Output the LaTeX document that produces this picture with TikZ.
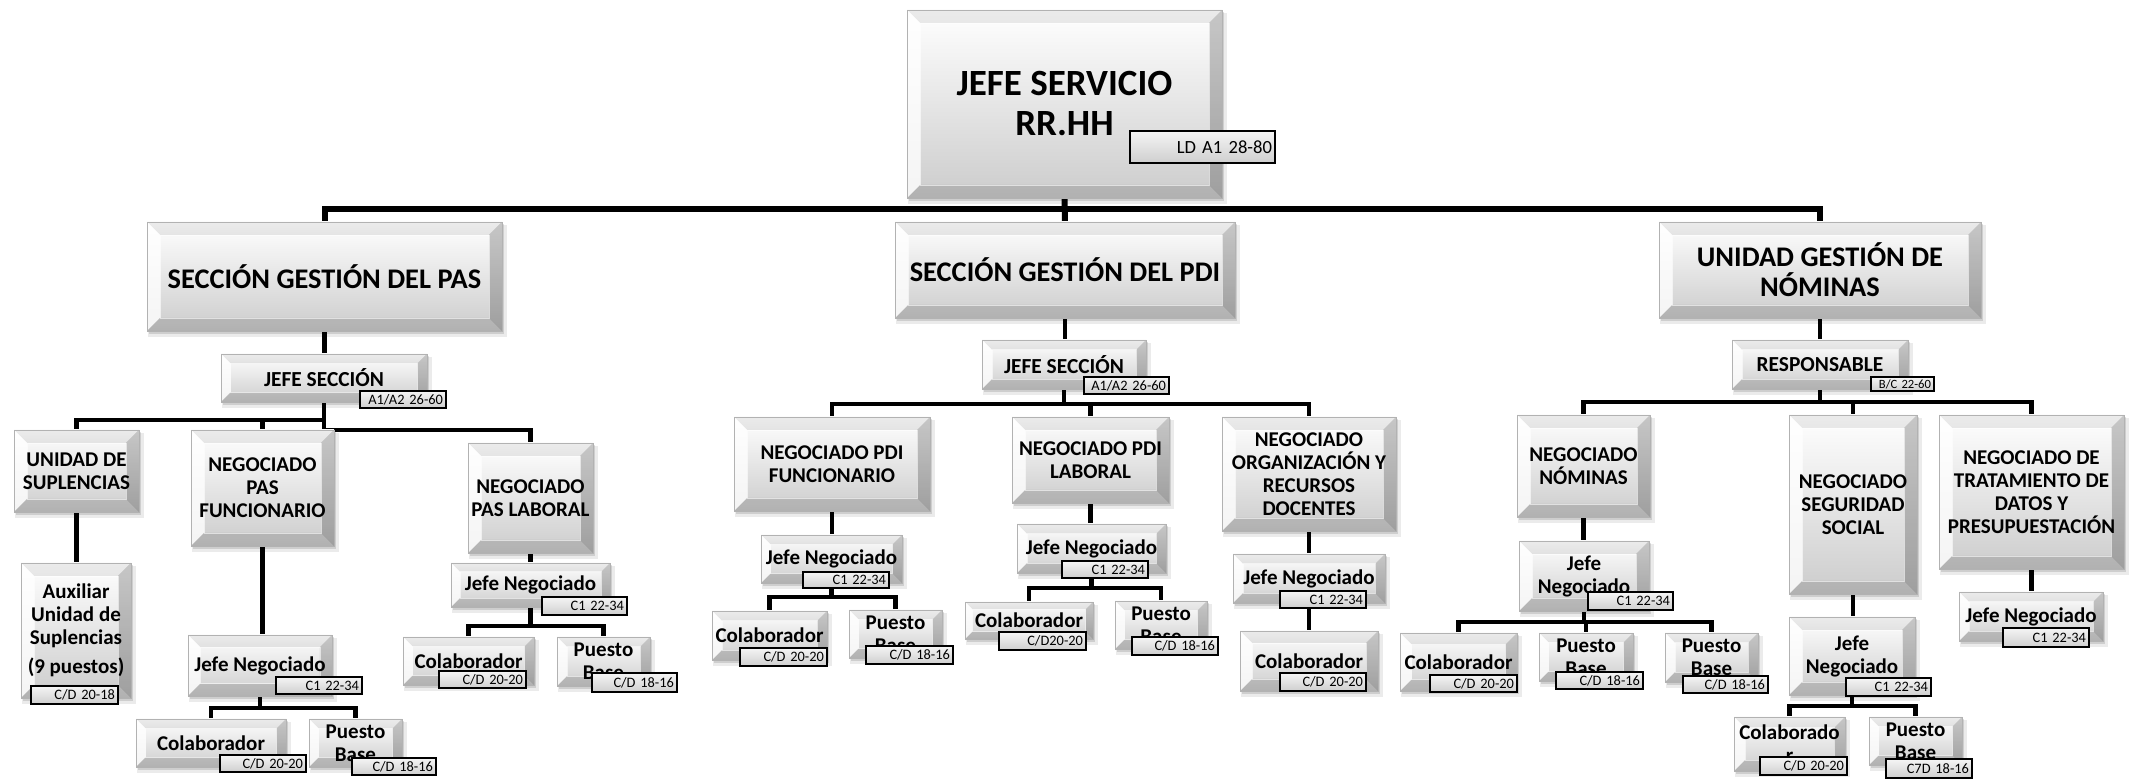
\documentclass[tikz,border=0pt]{standalone}
\usepackage{fontspec}
\setmainfont{Carlito}
\usetikzlibrary{calc}
\pgfdeclarelayer{bg}
\pgfsetlayers{bg,main}
\newcommand\bevelpic{%
  \path (path picture bounding box.north west) coordinate (bvA)
        (path picture bounding box.north east) coordinate (bvB)
        (path picture bounding box.south east) coordinate (bvC)
        (path picture bounding box.south west) coordinate (bvD);
  \path ([xshift=\bv pt,yshift=-\bv pt]bvA) coordinate (bvE)
        ([xshift=-\bv pt,yshift=-\bv pt]bvB) coordinate (bvF)
        ([xshift=-\bv pt,yshift=\bv pt]bvC) coordinate (bvG)
        ([xshift=\bv pt,yshift=\bv pt]bvD) coordinate (bvH);
  \fill[black,opacity=.08] (bvA)--(bvB)--(bvF)--(bvE)--cycle;
  \fill[white,opacity=.8] (bvA)--(bvE)--(bvH)--(bvD)--cycle;
  \fill[black,opacity=.22] (bvB)--(bvC)--(bvG)--(bvF)--cycle;
  \fill[black,opacity=.13] (bvD)--(bvH)--(bvG)--(bvC)--cycle;
  \draw[white,opacity=.6,line width=.3pt] (bvE)--(bvF)--(bvG)--(bvH)--cycle;
}
\tikzset{
  conn/.style={line width=2.4pt, black},
  mainconn/.style={line width=3pt, black},
  bev/.style={draw=gray!60, line width=.4pt, top color=white, bottom color=gray!40,
    inner sep=0pt, align=center, font=\bfseries\fontsize{10.5}{11.5}\selectfont,
    path picture={\bevelpic}},
  tagbox/.style={draw=black, line width=1.1pt, top color=gray!8, bottom color=gray!38,
    inner xsep=1.5pt, inner ysep=0pt, align=right, font=\fontsize{7.2}{7.5}\selectfont},
  f1/.style={font=\bfseries\fontsize{18.5}{20}\selectfont},
  f2/.style={font=\bfseries\fontsize{14.2}{15}\selectfont},
  f3/.style={font=\bfseries\fontsize{10.7}{11.5}\selectfont},
}
% box: [style] name x1 y1 x2 y2 text   (pixel units, y downwards)
\newcommand\bx[7][]{%
  \pgfmathsetmacro\bxw{(#5-#3)*0.5}%
  \pgfmathsetmacro\bxh{(#6-#4)*0.5}%
  \pgfmathsetmacro\bv{min(6.5,0.1*min(#5-#3,#6-#4))}%
  \fill[black,opacity=.08] (#3+1,#4+3) rectangle (#5+5,#6+6);
  \fill[black,opacity=.12] (#3+2,#4+2) rectangle (#5+2,#6+3);
  \node[bev,#1,minimum width=\bxw pt,minimum height=\bxh pt] (#2) at ({(#3+#5)/2},{(#4+#6)/2}) {#7};
}
% tag: [style] name x1 y1 x2 y2 text
\newcommand\tg[7][]{%
  \pgfmathsetmacro\tgw{(#5-#3)*0.5-3}%
  \pgfmathsetmacro\tgh{(#6-#4)*0.5}%
  \node[tagbox,#1,text width=\tgw pt,minimum height=\tgh pt] (#2) at ({(#3+#5)/2},{(#4+#6)/2}) {#7};
}
\newcommand\bus[3]{%
  \coordinate (#1-y) at (0,#2);
  \draw[conn] (#1.south) -- (#1.south |- #1-y);
  \foreach \c in {#3} {\draw[conn] (#1.south |- #1-y) -| (\c.north);}
}
\newcommand\dn[2]{\draw[conn] (#1.south) -- (#1.south |- #2.north);}

\begin{document}
\begin{tikzpicture}[x=0.5pt,y=-0.5pt]
\useasboundingbox (0,0) rectangle (2137,779);
\begin{pgfonlayer}{bg}
\fill[white] (0,0) rectangle (2137,779);
\end{pgfonlayer}

% top
\bx[f1]{main}{907}{10}{1222}{198}{JEFE SERVICIO\\RR.HH}
\tg[font=\fontsize{9.3}{10}\selectfont]{tMain}{1130}{131}{1275}{163}{LD A1 28-80}

% sections
\bx[f2]{pas}{147}{222}{502}{331}{SECCIÓN GESTIÓN DEL PAS}
\bx[f2]{pdi}{895}{222}{1235}{318}{SECCIÓN GESTIÓN DEL PDI}
\bx[f2]{nom}{1659}{222}{1981}{318}{UNIDAD GESTIÓN DE\\NÓMINAS}

\bx[f3]{jsPAS}{221}{354}{427}{402}{JEFE SECCIÓN}
\tg{tjsPAS}{360}{391}{446}{408}{A1/A2 26-60}
\bx[f3]{jsPDI}{982}{340}{1146}{389}{JEFE SECCIÓN}
\tg{tjsPDI}{1084}{377}{1169}{394}{A1/A2 26-60}
\bx[f3]{resp}{1732}{340}{1908}{389}{RESPONSABLE}
\tg[font=\fontsize{6.3}{6.5}\selectfont]{tresp}{1871}{377}{1934}{391}{B/C 22-60}

% PAS
\bx{uSup}{14}{430}{139}{512}{UNIDAD DE\\SUPLENCIAS}
\bx{npf}{191}{430}{334}{546}{NEGOCIADO\\PAS\\FUNCIONARIO}
\bx{npl}{468}{443}{593}{553}{NEGOCIADO\\PAS LABORAL}
\bx{aux}{21}{563}{131}{698}{Auxiliar\\Unidad de\\Suplencias\\[3pt](9 puestos)}
\tg{taux}{31}{686}{118}{704}{C/D 20-18}
\bx{jnPF}{188}{635}{332}{696}{Jefe Negociado}
\tg{tjnPF}{276}{677}{362}{694}{C1 22-34}
\bx{colPF}{136}{719}{286}{767}{Colaborador}
\tg{tcolPF}{220}{755}{306}{772}{C/D 20-20}
\bx{pbPF}{309}{719}{402}{767}{Puesto\\Base}
\tg{tpbPF}{352}{758}{436}{775}{C/D 18-16}
\bx{jnPL}{451}{563}{610}{607}{Jefe Negociado}
\tg{tjnPL}{542}{597}{627}{615}{C1 22-34}
\bx{colPL}{403}{637}{534}{685}{Colaborador}
\tg{tcolPL}{439}{671}{526}{688}{C/D 20-20}
\bx{pbPL}{557}{637}{650}{686}{Puesto\\Base}
\tg{tpbPL}{592}{673}{677}{692}{C/D 18-16}

% PDI
\bx{npdf}{734}{417}{930}{511}{NEGOCIADO PDI\\FUNCIONARIO}
\bx{npdl}{1012}{417}{1169}{503}{NEGOCIADO PDI\\LABORAL}
\bx{org}{1222}{417}{1396}{531}{NEGOCIADO\\ORGANIZACIÓN Y\\RECURSOS\\DOCENTES}
\bx{jnDF}{761}{535}{902}{583}{Jefe Negociado}
\tg{tjnDF}{803}{572}{889}{588}{C1 22-34}
\bx{colDF}{712}{611}{827}{660}{Colaborador}
\tg{tcolDF}{740}{648}{827}{666}{C/D 20-20}
\bx{pbDF}{849}{610}{942}{658}{Puesto\\Base}
\tg{tpbDF}{866}{646}{953}{664}{C/D 18-16}
\bx{jnDL}{1017}{524}{1166}{573}{Jefe Negociado}
\tg{tjnDL}{1062}{561}{1148}{578}{C1 22-34}
\bx{colDL}{965}{602}{1093}{639}{Colaborador}
\tg{tcolDL}{999}{632}{1086}{650}{C/D20-20}
\bx{pbDL}{1115}{601}{1207}{649}{Puesto\\Base}
\tg{tpbDL}{1132}{637}{1218}{655}{C/D 18-16}
\bx{jnOR}{1233}{554}{1385}{603}{Jefe Negociado}
\tg{tjnOR}{1280}{591}{1366}{608}{C1 22-34}
\bx{colOR}{1240}{631}{1378}{691}{Colaborador}
\tg{tcolOR}{1280}{673}{1366}{691}{C/D 20-20}

% Nominas
\bx{nn}{1517}{415}{1650}{517}{NEGOCIADO\\NÓMINAS}
\bx{nss}{1789}{415}{1917}{594}{NEGOCIADO\\SEGURIDAD\\SOCIAL}
\bx{nt}{1939}{415}{2124}{569}{NEGOCIADO DE\\TRATAMIENTO DE\\DATOS Y\\PRESUPUESTACIÓN}
\bx{jnNN}{1519}{541}{1649}{611}{Jefe\\Negociado}
\tg{tjnNN}{1588}{592}{1673}{610}{C1 22-34}
\bx{colNN}{1400}{633}{1517}{691}{Colaborador}
\tg{tcolNN}{1430}{675}{1517}{692}{C/D 20-20}
\bx{pbaNN}{1539}{633}{1633}{681}{Puesto\\Base}
\tg{tpbaNN}{1556}{672}{1643}{689}{C/D 18-16}
\bx{pbbNN}{1665}{633}{1758}{682}{Puesto\\Base}
\tg{tpbbNN}{1683}{676}{1768}{693}{C/D 18-16}
\bx{jnSS}{1789}{617}{1915}{695}{Jefe\\Negociado}
\tg{tjnSS}{1846}{678}{1931}{696}{C1 22-34}
\bx{colSS}{1734}{717}{1845}{771}{Colaborado\\r}
\tg{tcolSS}{1760}{757}{1847}{775}{C/D 20-20}
\bx{pbSS}{1869}{717}{1962}{765}{Puesto\\Base}
\tg{tpbSS}{1886}{759}{1972}{778}{C7D 18-16}
\bx{jnNT}{1959}{592}{2103}{641}{Jefe Negociado}
\tg{tjnNT}{2003}{628}{2089}{647}{C1 22-34}

% connectors
\begin{pgfonlayer}{bg}
\coordinate (mbus) at (1064.5,209);
\draw[mainconn] (pas.north) |- (mbus) -| (nom.north);
\draw[mainconn] (main.south) -- (pdi.north);
\dn{pas}{jsPAS}
\coordinate (pasA) at (324,420);
\coordinate (pasB) at (324,430);
\draw[conn] (jsPAS.south) -- (pasB);
\draw[conn] (pasA) -| (uSup.north);
\draw[conn] (npf.north |- pasA) -- (npf.north);
\draw[conn] (pasB) -| (npl.north);
\dn{uSup}{aux}
\dn{npf}{jnPF}
\dn{npl}{jnPL}
\bus{jnPF}{708}{colPF,pbPF}
\bus{jnPL}{626}{colPL,pbPL}
\dn{pdi}{jsPDI}
\bus{jsPDI}{404}{npdf,npdl,org}
\dn{npdf}{jnDF}
\dn{npdl}{jnDL}
\dn{org}{jnOR}
\bus{jnDF}{597}{colDF,pbDF}
\bus{jnDL}{588}{colDL,pbDL}
\dn{jnOR}{colOR}
\dn{nom}{resp}
\bus{resp}{402}{nn,nss,nt}
\dn{nn}{jnNN}
\dn{nss}{jnSS}
\dn{nt}{jnNT}
\bus{jnNN}{622}{colNN,pbaNN,pbbNN}
\bus{jnSS}{706}{colSS,pbSS}
\end{pgfonlayer}
\end{tikzpicture}
\end{document}
